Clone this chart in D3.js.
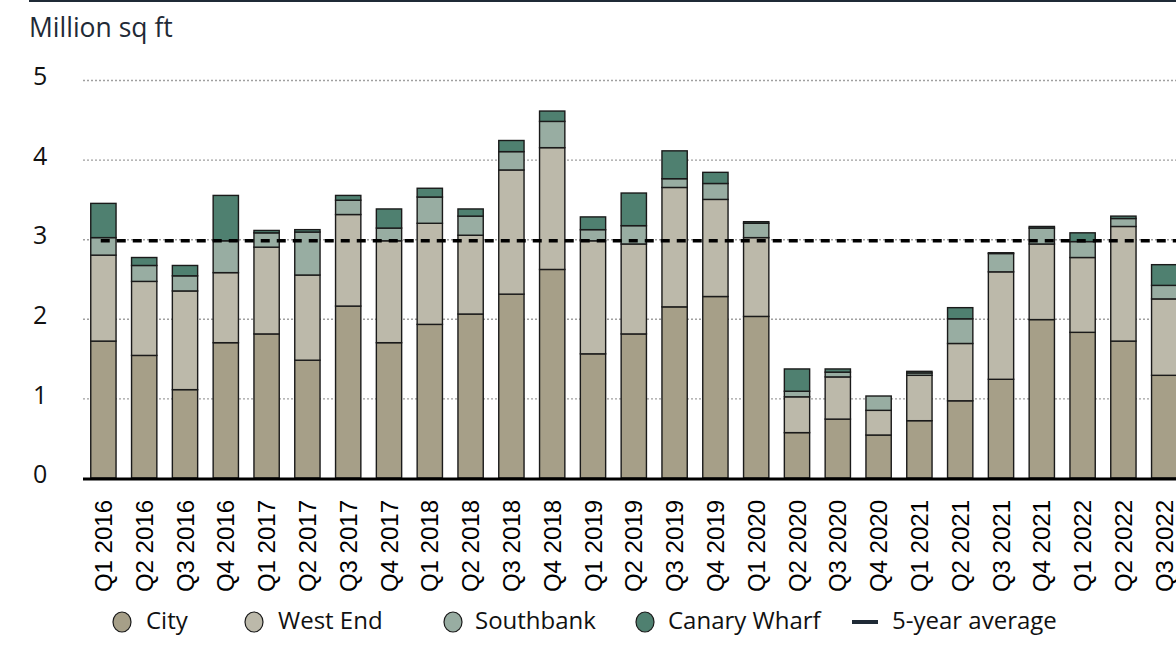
<!DOCTYPE html>
<html>
<head>
<meta charset="utf-8">
<script src="https://cdn.jsdelivr.net/npm/d3@7"></script>
<style>
  html, body { margin: 0; padding: 0; background: #fff; overflow: hidden; }
  svg { display: block; }
</style>
</head>
<body>
<svg id="chart" width="1176" height="663"></svg>
<script>
// Quarterly take-up by submarket, million sq ft
const quarters = [
  "Q1 2016","Q2 2016","Q3 2016","Q4 2016",
  "Q1 2017","Q2 2017","Q3 2017","Q4 2017",
  "Q1 2018","Q2 2018","Q3 2018","Q4 2018",
  "Q1 2019","Q2 2019","Q3 2019","Q4 2019",
  "Q1 2020","Q2 2020","Q3 2020","Q4 2020",
  "Q1 2021","Q2 2021","Q3 2021","Q4 2021",
  "Q1 2022","Q2 2022","Q3 2022"
];
const city = [1.72,1.54,1.11,1.70, 1.81,1.48,2.16,1.70, 1.93,2.06,2.31,2.62, 1.56,1.81,2.15,2.28, 2.03,0.57,0.74,0.54, 0.72,0.97,1.24,1.99, 1.83,1.72,1.29];
const westEnd = [1.08,0.93,1.24,0.88, 1.09,1.07,1.15,1.28, 1.27,0.99,1.56,1.53, 1.42,1.13,1.50,1.22, 0.99,0.45,0.53,0.31, 0.57,0.72,1.35,0.95, 0.94,1.44,0.96];
const southbank = [0.22,0.20,0.19,0.40, 0.18,0.54,0.18,0.16, 0.33,0.24,0.23,0.33, 0.14,0.23,0.11,0.20, 0.18,0.07,0.06,0.18, 0.03,0.31,0.23,0.20, 0.20,0.10,0.17];
const canaryWharf = [0.43,0.10,0.13,0.57, 0.03,0.03,0.06,0.24, 0.11,0.09,0.14,0.13, 0.16,0.41,0.35,0.14, 0.02,0.28,0.04,0.00, 0.02,0.14,0.01,0.02, 0.11,0.03,0.26];
const fiveYearAverage = 2.98;
const yTicks = [0,1,2,3,4,5];

const seriesNames = ["City","West End","Southbank","Canary Wharf"];
const seriesColors = ["#a69f88","#bcb9aa","#98ada2","#4f8070"];
const seriesValues = [city, westEnd, southbank, canaryWharf];

const rows = quarters.map((q, i) => {
  const r = { quarter: q };
  seriesNames.forEach((s, k) => { r[s] = seriesValues[k][i]; });
  return r;
});
const stacked = d3.stack().keys(seriesNames)(rows);

const svg = d3.select("#chart");
const plotLeft = 83, step = 40.8, yZero = 478, yTop = 80;
const uiFont = "'Open Sans', 'Noto Sans', sans-serif";

const x = d3.scaleBand()
  .domain(quarters)
  .range([plotLeft, plotLeft + step * quarters.length])
  .paddingInner(0.38)
  .paddingOuter(0.19);

const y = d3.scaleLinear().domain([0, 5]).range([yZero, yTop]);

// Top rule
svg.append("line")
  .attr("x1", 29).attr("x2", 1176).attr("y1", 1).attr("y2", 1)
  .attr("stroke", "#1f2a36").attr("stroke-width", 2);

// Axis title
svg.append("text")
  .attr("x", 29).attr("y", 37)
  .attr("font-family", uiFont)
  .attr("font-size", 26.5)
  .attr("fill", "#1f2a36")
  .text("Million sq ft");

// Gridlines and y tick labels
const yAxis = d3.axisLeft(y).tickValues(yTicks).tickSize(0).tickFormat(d3.format("d"));
const yg = svg.append("g").attr("transform", `translate(${plotLeft},0)`).call(yAxis);
yg.select(".domain").remove();
yg.selectAll("text")
  .attr("x", -50).attr("dy", "0.35em").attr("y", -4)
  .attr("text-anchor", "start")
  .attr("font-family", uiFont)
  .attr("font-size", 25)
  .attr("fill", "#111");
yg.selectAll(".tick").filter(d => d > 0).append("line")
  .attr("x1", 0).attr("x2", 1176 - plotLeft)
  .attr("stroke", "#a0a0a0").attr("stroke-width", 1.4)
  .attr("stroke-dasharray", "2,2");

// Stacked bars
svg.append("g").selectAll("g")
  .data(stacked)
  .join("g")
  .attr("fill", (d, k) => seriesColors[k])
  .selectAll("rect")
  .data(d => d)
  .join("rect")
  .attr("x", d => x(d.data.quarter))
  .attr("width", x.bandwidth())
  .attr("y", d => y(d[1]))
  .attr("height", d => Math.max(0, y(d[0]) - y(d[1])))
  .attr("stroke", "#1a1a1a")
  .attr("stroke-width", 1.4);

// Baseline
svg.append("line")
  .attr("x1", plotLeft).attr("x2", 1176)
  .attr("y1", y(0) + 1).attr("y2", y(0) + 1)
  .attr("stroke", "#000").attr("stroke-width", 3);

// 5-year average
svg.append("line")
  .attr("x1", x(quarters[0]) + 10).attr("x2", 1176)
  .attr("y1", y(fiveYearAverage)).attr("y2", y(fiveYearAverage))
  .attr("stroke", "#000").attr("stroke-width", 3.5)
  .attr("stroke-dasharray", "9,7");

// X labels (rotated)
const xAxis = d3.axisBottom(x).tickSize(0);
const xg = svg.append("g").attr("transform", `translate(0,${y(0)})`).call(xAxis);
xg.select(".domain").remove();
xg.selectAll("text")
  .attr("transform", "rotate(-90)")
  .attr("x", -22).attr("y", 0).attr("dy", "0.36em")
  .attr("text-anchor", "end")
  .attr("font-family", "'Liberation Sans', Arial, sans-serif")
  .attr("font-size", 24)
  .attr("fill", "#000");

// Legend
const legendY = 621;
const legendItems = [
  { name: "City", cx: 122, tx: 146 },
  { name: "West End", cx: 254, tx: 278 },
  { name: "Southbank", cx: 453, tx: 475 },
  { name: "Canary Wharf", cx: 645, tx: 668 }
];
const lg = svg.append("g");
legendItems.forEach((it, k) => {
  lg.append("ellipse")
    .attr("cx", it.cx).attr("cy", legendY + 1)
    .attr("rx", 9).attr("ry", 10)
    .attr("fill", seriesColors[k])
    .attr("stroke", "#1a1a1a").attr("stroke-width", 1.2);
  lg.append("text")
    .attr("x", it.tx).attr("y", legendY).attr("dy", "0.35em")
    .attr("font-family", uiFont)
    .attr("font-size", 24)
    .attr("fill", "#111")
    .text(it.name);
});
lg.append("line")
  .attr("x1", 852).attr("x2", 878)
  .attr("y1", legendY + 1).attr("y2", legendY + 1)
  .attr("stroke", "#1f2a36").attr("stroke-width", 4);
lg.append("text")
  .attr("x", 892).attr("y", legendY).attr("dy", "0.35em")
  .attr("font-family", uiFont)
  .attr("font-size", 24)
  .attr("fill", "#111")
  .text("5-year average");
</script>
</body>
</html>
